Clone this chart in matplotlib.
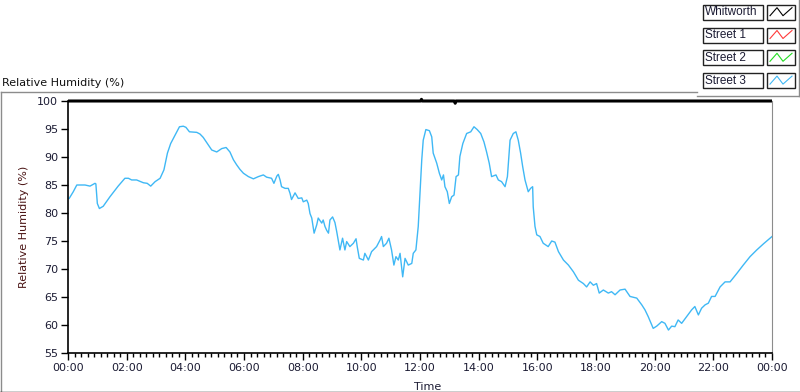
import matplotlib
matplotlib.use("Agg")
import matplotlib.pyplot as plt
from matplotlib.lines import Line2D
from matplotlib.patches import Rectangle
from matplotlib.ticker import FixedLocator, MultipleLocator

# Street 3 relative humidity (hours since midnight, %)
hours = [0.04, 0.18, 0.30, 0.58, 0.75, 0.92, 0.95, 1.00, 1.07, 1.20, 1.43, 1.71, 1.94, 2.06,
         2.17, 2.34, 2.57, 2.70, 2.82, 2.97, 3.14, 3.27, 3.39, 3.50, 3.65, 3.80, 3.93, 4.02,
         4.14, 4.39, 4.50, 4.61, 4.75, 4.90, 5.07, 5.24, 5.39, 5.52, 5.64, 5.75, 5.86, 5.98,
         6.15, 6.32, 6.49, 6.66, 6.77, 6.94, 7.02, 7.12, 7.17, 7.23, 7.28, 7.40, 7.51, 7.57,
         7.62, 7.74, 7.85, 7.97, 8.02, 8.14, 8.19, 8.25, 8.31, 8.39, 8.48, 8.53, 8.65, 8.70,
         8.76, 8.82, 8.88, 8.93, 9.02, 9.10, 9.16, 9.22, 9.27, 9.36, 9.44, 9.50, 9.61, 9.73,
         9.82, 9.86, 9.93, 10.07, 10.12, 10.24, 10.35, 10.52, 10.64, 10.69, 10.75, 10.86,
         10.94, 11.03, 11.11, 11.18, 11.26, 11.32, 11.41, 11.49, 11.60, 11.72, 11.77, 11.86,
         11.94, 12.00, 12.06, 12.11, 12.20, 12.32, 12.40, 12.45, 12.51, 12.57, 12.66, 12.74,
         12.80, 12.85, 12.93, 13.00, 13.08, 13.16, 13.23, 13.31, 13.36, 13.46, 13.59, 13.73,
         13.84, 13.95, 14.07, 14.18, 14.27, 14.36, 14.44, 14.59, 14.67, 14.78, 14.90, 14.98,
         15.07, 15.18, 15.27, 15.35, 15.43, 15.50, 15.58, 15.69, 15.77, 15.84, 15.86, 15.92,
         15.98, 16.09, 16.20, 16.37, 16.49, 16.60, 16.72, 16.89, 17.06, 17.23, 17.40, 17.57,
         17.68, 17.80, 17.91, 18.02, 18.11, 18.25, 18.42, 18.53, 18.65, 18.82, 18.99, 19.16,
         19.39, 19.56, 19.67, 19.78, 19.90, 19.95, 20.07, 20.24, 20.35, 20.47, 20.58, 20.69,
         20.80, 20.92, 21.09, 21.26, 21.37, 21.49, 21.60, 21.72, 21.83, 21.94, 22.06, 22.23,
         22.40, 22.57, 22.80, 23.02, 23.25, 23.48, 23.71, 24.00]
rh = [82.6, 83.8, 85.0, 85.0, 84.8, 85.3, 85.2, 81.7, 80.8, 81.2, 82.9, 84.8, 86.2, 86.2,
      85.9, 85.9, 85.4, 85.3, 84.8, 85.6, 86.2, 87.7, 90.7, 92.4, 93.9, 95.4, 95.5, 95.3,
      94.5, 94.4, 94.1, 93.5, 92.4, 91.25, 90.9, 91.5, 91.7, 90.9, 89.5, 88.6, 87.8, 87.1,
      86.5, 86.1, 86.5, 86.8, 86.4, 86.2, 85.3, 86.6, 86.9, 85.9, 84.7, 84.4, 84.4, 83.5,
      82.4, 83.6, 82.6, 82.7, 82.0, 82.3, 81.7, 79.9, 79.1, 76.4, 77.9, 79.1, 78.2, 78.75,
      77.6, 76.9, 76.4, 78.75, 79.3, 78.3, 76.7, 74.9, 73.4, 75.5, 73.4, 74.9, 74.0, 74.6,
      75.4, 74.0, 71.9, 71.6, 72.8, 71.6, 73.1, 74.0, 75.2, 75.8, 74.0, 74.6,
      75.5, 73.4, 70.7, 72.2, 71.6, 72.8, 68.6, 71.9, 70.7, 71.0, 72.8, 73.4,
      77.6, 83.5, 89.5, 93.0, 94.9, 94.7, 93.6, 90.7, 89.8, 88.9, 87.1, 85.9,
      86.8, 84.7, 83.8, 81.7, 82.9, 83.2, 86.5, 86.8, 90.1, 92.4, 94.2, 94.5,
      95.4, 94.9, 94.2, 92.7, 90.9, 88.9, 86.5, 86.8, 85.9, 85.6, 84.7, 86.5,
      93.0, 94.2, 94.5, 93.0, 90.7, 88.3, 85.9, 83.8, 84.4, 84.7, 81.1, 77.6,
      76.1, 75.8, 74.6, 74.0, 75.0, 74.8, 73.1, 71.6, 70.7, 69.5, 68.0, 67.4,
      66.8, 67.7, 67.1, 67.4, 65.7, 66.25, 65.7, 65.95, 65.4, 66.25, 66.4, 65.1,
      64.8, 63.6, 62.7, 61.5, 60.0, 59.4, 59.8, 60.6, 60.3, 59.1, 59.8, 59.7,
      60.9, 60.3, 61.5, 62.7, 63.3, 61.8, 63.0, 63.6, 63.9, 65.1, 65.1, 66.8,
      67.7, 67.7, 69.2, 70.7, 72.2, 73.4, 74.5, 75.8]

# Whitworth sits at the 100 % ceiling
whit_hours = [0, 12.02, 12.05, 12.08, 13.17, 13.2, 13.23, 24]
whit_rh = [100, 100, 100.3, 100, 100, 99.6, 100, 100]

series_names = ["Whitworth", "Street 1", "Street 2", "Street 3"]
series_colors = ["black", "#ff3b3b", "#22dd22", "#3fb8f5"]

xtick_hours = list(range(0, 25, 2))
xtick_labels = ["00:00", "02:00", "04:00", "06:00", "08:00", "10:00", "12:00",
                "14:00", "16:00", "18:00", "20:00", "22:00", "00:00"]
yticks = list(range(55, 101, 5))

W, H = 800, 392
txt_col = "#1c1c34"
lab_col = "#4a1414"

fig = plt.figure(figsize=(W / 100, H / 100), dpi=100)
ax = fig.add_axes([68 / W, 1 - 353 / H, 704 / W, 252 / H])

ax.plot(hours, rh, color=series_colors[3], lw=1)
ax.plot(whit_hours, whit_rh, color="black", lw=2.2, clip_on=False, solid_capstyle="butt")

ax.set_xlim(0, 24)
ax.set_ylim(55, 100)
ax.xaxis.set_major_locator(FixedLocator(xtick_hours))
ax.set_xticklabels(xtick_labels)
ax.xaxis.set_minor_locator(MultipleLocator(2 / 9))
ax.set_yticks(yticks)
ax.tick_params(axis="both", which="major", length=5, width=1, color="black",
               labelsize=8, labelcolor=txt_col, pad=2)
ax.tick_params(axis="x", which="minor", length=3, width=1, color="black")
ax.tick_params(axis="y", which="minor", left=False)

ax.spines["top"].set_visible(False)
ax.spines["right"].set_color("#8c8c8c")
ax.spines["left"].set_linewidth(1.2)
ax.spines["bottom"].set_linewidth(1.2)

ax.set_xlabel("Time", fontsize=8, color=txt_col, labelpad=1)
ax.xaxis.set_label_coords((428 - 68) / 704, -0.115)
ax.set_ylabel("Relative Humidity (%)", fontsize=8, color=lab_col, labelpad=6)

fig.text(2 / W, 1 - 83 / H, "Relative Humidity (%)", fontsize=8, color="#111111",
         va="center", ha="left")


def fx(px):
    return px / W


def fy(py):
    return 1 - py / H


# outer panel frame
frame = [((0.5, 0.5), (91.5, 391.5), "#8c8c8c"),
         ((0.5, 697), (91.5, 91.5), "#8c8c8c"),
         ((0, 800), (391.5, 391.5), "black"),
         ((697, 798.5), (95.5, 95.5), "#8c8c8c"),
         ((798.5, 798.5), (0, 95.5), "#8c8c8c")]
for xs, ys, c in frame:
    fig.add_artist(Line2D([fx(x) for x in xs], [fy(y) for y in ys], color=c, lw=1))

# legend boxes
for i, (name, col) in enumerate(zip(series_names, series_colors)):
    top = 4.7 + i * 22.8
    h = 15
    fig.add_artist(Rectangle((fx(702.7), fy(top + h)), 60 / W, h / H, fill=False,
                             edgecolor="#222222", lw=1))
    fig.add_artist(Rectangle((fx(767.3), fy(top + h)), 27.7 / W, h / H, fill=False,
                             edgecolor="#222222", lw=1))
    fig.text(fx(705), fy(top + h / 2), name, fontsize=8.5, color=txt_col,
             family="Liberation Sans", va="center", ha="left")
    zx = [770, 777, 783, 792]
    zy = [top + 11, top + 3, top + 11, top + 3]
    fig.add_artist(Line2D([fx(x) for x in zx], [fy(y) for y in zy], color=col, lw=0.8))

fig.savefig("out.png", dpi=100)
